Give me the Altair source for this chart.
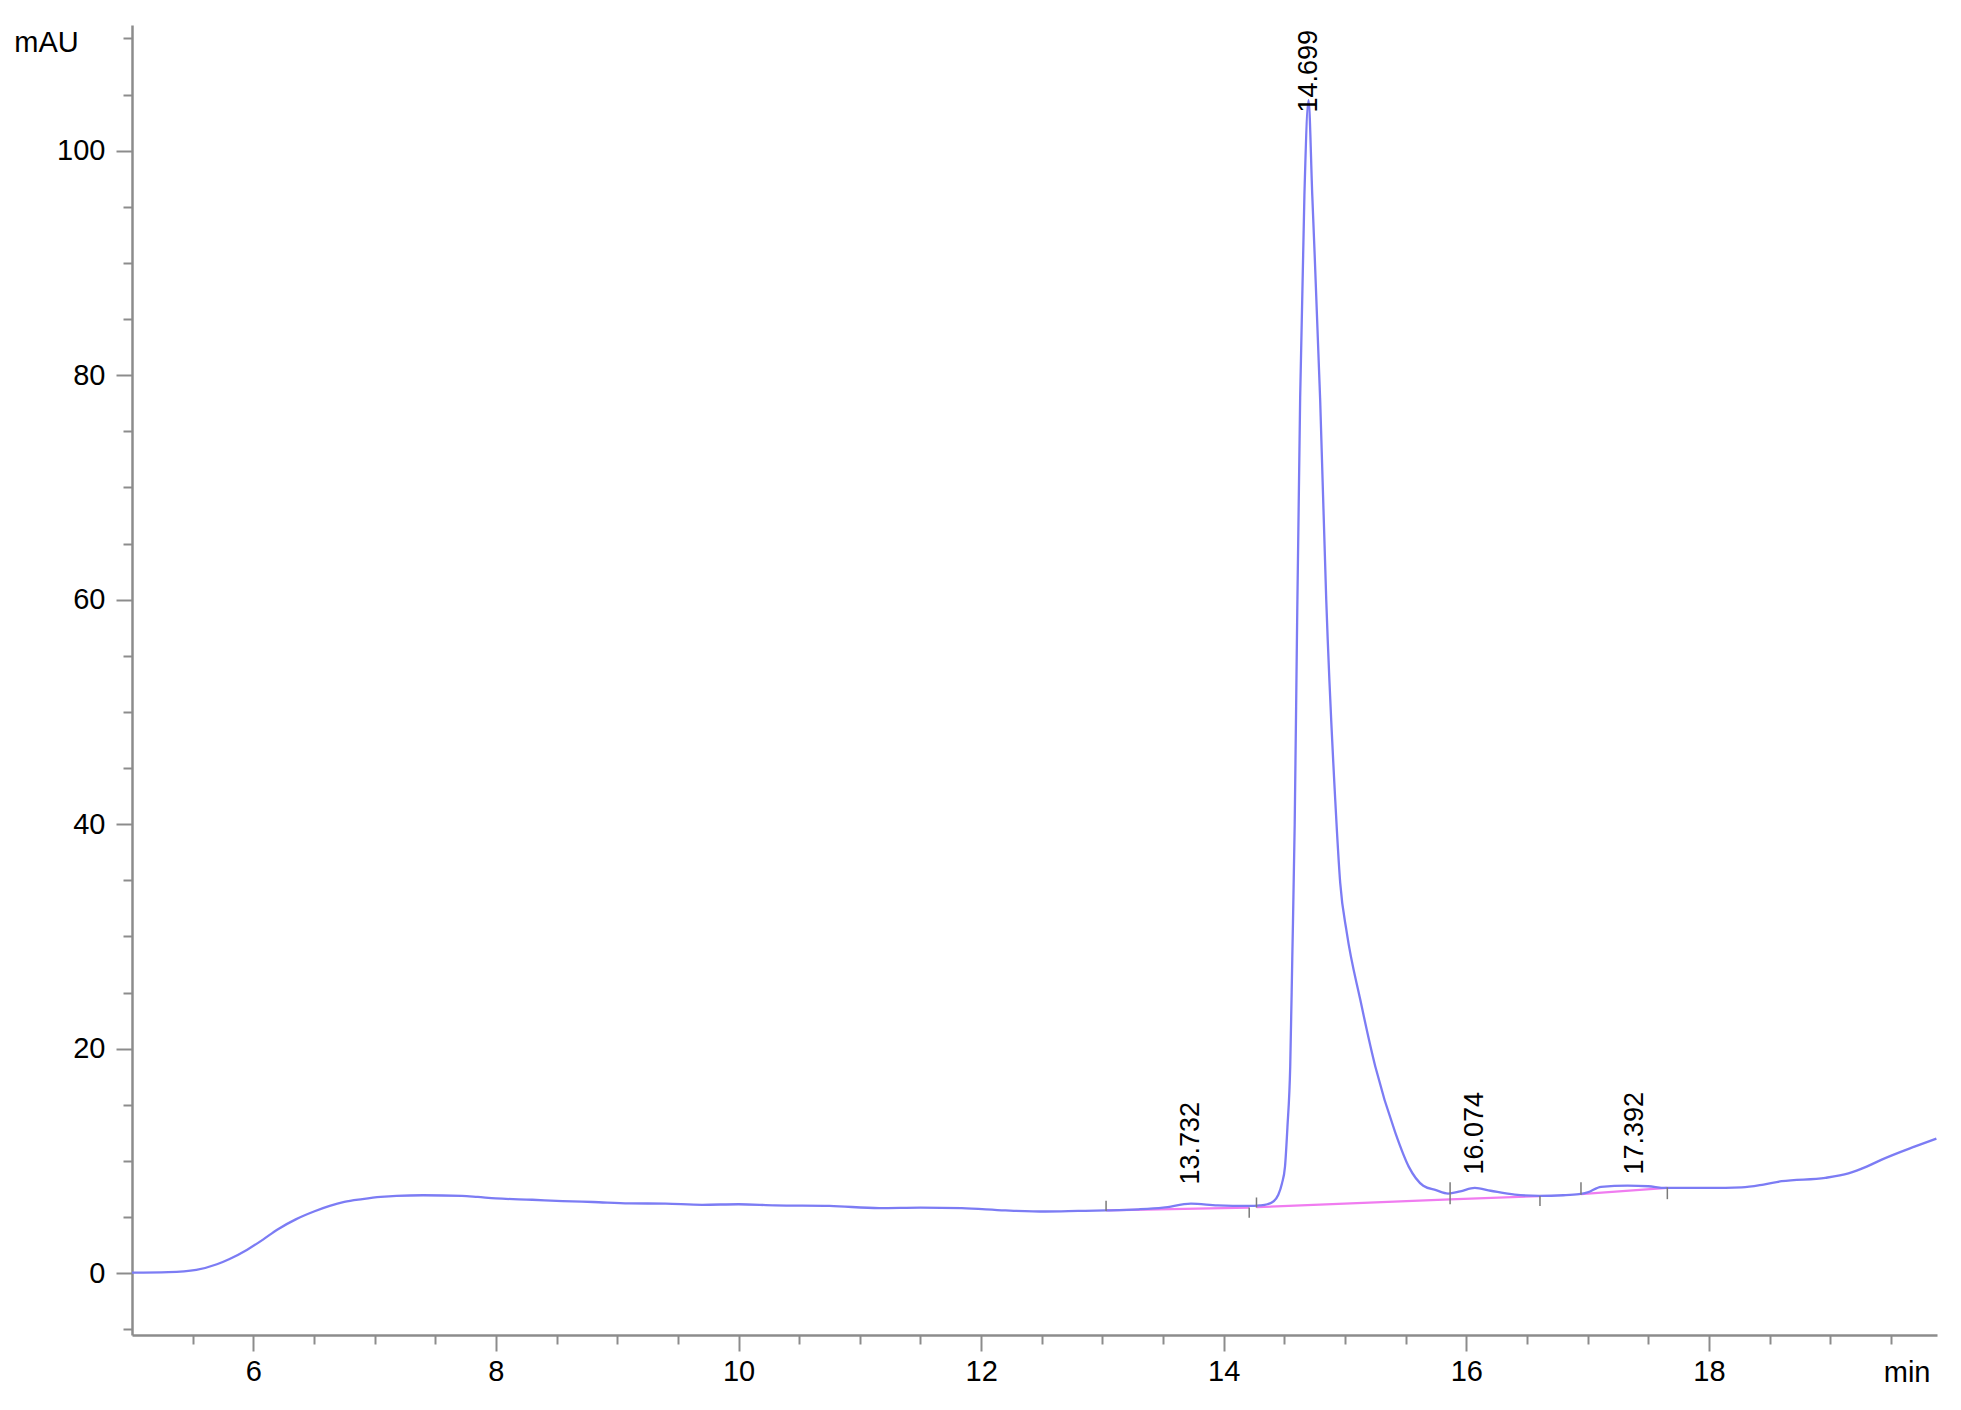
import altair as alt
import pandas as pd

# ---- chromatogram trace ----
time_min = [5.00, 5.30, 5.53, 5.70, 5.80, 5.95, 6.08, 6.20, 6.35, 6.50,
            6.63, 6.75, 6.90, 7.05, 7.18, 7.40, 7.72, 7.85, 8.00, 8.30,
            8.55, 8.80, 9.10, 9.40, 9.70, 10.00, 10.30, 10.75, 11.16, 11.50,
            11.84, 12.20, 12.53, 12.80, 13.03, 13.30, 13.50, 13.73, 13.95, 14.20,
            14.30, 14.36, 14.41, 14.45, 14.48, 14.505, 14.525, 14.548, 14.565, 14.585,
            14.605, 14.63, 14.665, 14.699, 14.73, 14.795, 14.845, 14.919, 14.96, 15.015,
            15.125, 15.25, 15.415, 15.525, 15.645, 15.75, 15.85, 15.95, 16.07, 16.20,
            16.40, 16.60, 16.80, 16.93, 17.00, 17.11, 17.33, 17.50, 17.64, 18.00,
            18.27, 18.45, 18.60, 18.96, 19.15, 19.30, 19.42, 19.70, 19.875]
signal_mau = [0.05, 0.10, 0.30, 0.80, 1.25, 2.10, 3.00, 3.90, 4.80, 5.50,
              6.00, 6.35, 6.60, 6.80, 6.90, 6.95, 6.90, 6.80, 6.67, 6.55,
              6.43, 6.35, 6.23, 6.20, 6.10, 6.15, 6.05, 6.00, 5.80, 5.85,
              5.80, 5.60, 5.50, 5.55, 5.60, 5.70, 5.85, 6.20, 6.05, 6.00,
              6.05, 6.15, 6.40, 7.00, 8.00, 9.50, 13.0, 18.4, 28.0, 40.0,
              58.0, 78.0, 96.0, 104.5, 96.0, 77.8, 60.0, 42.2, 34.8, 30.3,
              24.4, 18.4, 12.5, 9.5, 7.8, 7.40, 7.10, 7.30, 7.60, 7.35,
              7.00, 6.90, 6.95, 7.05, 7.20, 7.70, 7.80, 7.75, 7.60, 7.60,
              7.65, 7.90, 8.20, 8.50, 8.90, 9.50, 10.10, 11.30, 12.00]

# ---- integration baselines ----
base_time = [13.03, 14.21, 14.27, 15.866, 15.866, 16.607, 16.945, 17.657]
base_value = [5.60, 5.85, 5.88, 6.58, 6.58, 6.88, 7.05, 7.60]
base_segment = ["a", "a", "b", "b", "c", "c", "d", "d"]

# ---- integration event markers ----
event_time = [13.03, 14.21, 14.27, 15.866, 16.607, 16.945, 17.657]
event_low = [5.55, 4.95, 5.85, 6.15, 6.00, 7.00, 6.60]
event_high = [6.45, 5.85, 6.75, 8.10, 6.88, 8.10, 7.65]

# ---- peak retention-time labels ----
peak_time = [13.732, 14.699, 16.074, 17.392]
peak_label = ["13.732", "14.699", "16.074", "17.392"]
label_base = [7.9, 103.4, 8.8, 8.8]

# ---- axis ticks ----
x_tick_values = [5.5 + 0.5 * i for i in range(29)]
y_tick_values = [-5 + 5 * i for i in range(24)]

trace = pd.DataFrame({"t": time_min, "v": signal_mau})
base = pd.DataFrame({"t": base_time, "v": base_value, "seg": base_segment})
events = pd.DataFrame({"t": event_time, "v": event_low, "v2": event_high})
labels = pd.DataFrame({"t": peak_time, "v": label_base, "txt": peak_label})

FONT = "Liberation Sans"
AXIS_GRAY = "#8c8c8c"

x_axis = alt.Axis(
    values=x_tick_values,
    labelExpr="datum.value % 2 === 0 ? format(datum.value, 'd') : ''",
    tickSize={"condition": {"test": "datum.value % 2 === 0", "value": 16}, "value": 9},
    labelPadding=6,
    labelOverlap=False,
    labelFlush=False,
    title="min",
    titleAngle=0,
    titleAlign="right",
    titleBaseline="middle",
    titleX=1798,
    titleY=37,
    grid=False,
)
y_axis = alt.Axis(
    values=y_tick_values,
    labelExpr="datum.value % 20 === 0 ? format(datum.value, 'd') : ''",
    tickSize={"condition": {"test": "datum.value % 20 === 0", "value": 16}, "value": 9},
    labelPadding=11,
    labelOverlap=False,
    labelFlush=False,
    title="mAU",
    titleAngle=0,
    titleAlign="center",
    titleBaseline="middle",
    titleX=-86,
    titleY=17,
    grid=False,
)

x_enc = alt.X("t:Q", scale=alt.Scale(domain=[5.0, 19.88], nice=False, zero=False), axis=x_axis)
y_enc = alt.Y("v:Q", scale=alt.Scale(domain=[-5.5, 111.2], nice=False, zero=False), axis=y_axis)

line = alt.Chart(trace).mark_line(color="#7c7cf4", strokeWidth=2.3, interpolate="monotone").encode(
    x=x_enc, y=y_enc
)
baseline = alt.Chart(base).mark_line(color="#f07cf0", strokeWidth=2.2).encode(
    x="t:Q", y="v:Q", detail="seg:N"
)
marks = alt.Chart(events).mark_rule(color="#7a7a7a", strokeWidth=1.5).encode(
    x="t:Q", y="v:Q", y2="v2:Q"
)
texts = alt.Chart(labels).mark_text(
    angle=270, align="left", baseline="middle", font=FONT, fontSize=27, color="black"
).encode(x="t:Q", y="v:Q", text="txt:N")

chart = (
    alt.layer(baseline, line, marks, texts)
    .properties(
        width=1805,
        height=1310,
        autosize=alt.AutoSizeParams(type="none"),
        padding={"left": 124, "top": 17, "right": 16, "bottom": 60},
    )
    .configure_view(stroke=None)
    .configure_axis(
        labelFont=FONT,
        labelFontSize=29,
        labelColor="black",
        titleFont=FONT,
        titleFontSize=29,
        titleFontWeight="normal",
        titleColor="black",
        domainColor=AXIS_GRAY,
        domainWidth=2.5,
        tickColor=AXIS_GRAY,
        tickWidth=2,
    )
)

chart.save("out.html", embed_options={"renderer": "svg", "actions": False})
